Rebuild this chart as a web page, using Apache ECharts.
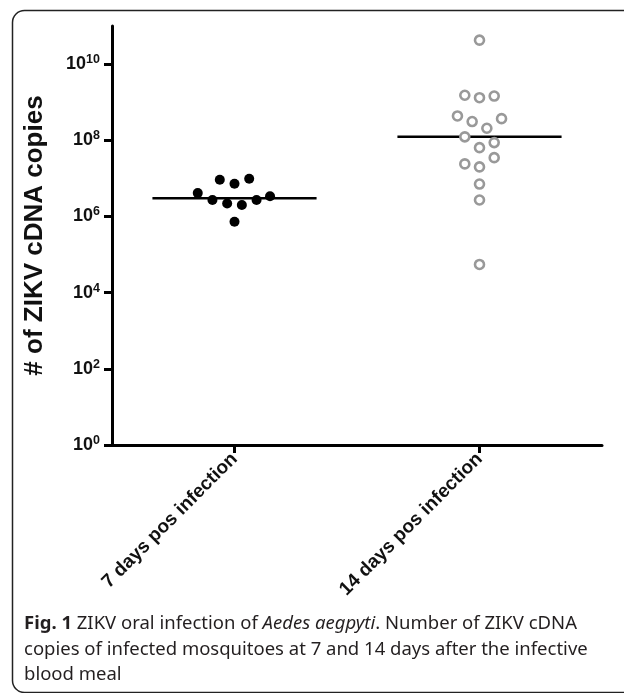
<!DOCTYPE html>
<html>
<head>
<meta charset="utf-8">
<script src="https://cdn.jsdelivr.net/npm/echarts@6/dist/echarts.min.js"></script>
<style>
html,body{margin:0;padding:0;background:#fff;}
#c{width:624px;height:693px;}
</style>
</head>
<body>
<div id="c"></div>
<script>
// Categories and their positions on the x value axis
var categories = ['7 days pos infection', '14 days pos infection'];
var categoryPos = [1, 3];
// Y axis tick values (log scale)
var yTicks = [1, 1e2, 1e4, 1e6, 1e8, 1e10];

// 7 days: x position (jittered around 1) and copies
var day7X = [0.70, 0.88, 1.00, 1.12, 0.82, 0.94, 1.06, 1.18, 1.29, 1.00];
var day7Y = [4.1e6, 9.2e6, 7.2e6, 9.8e6, 2.7e6, 2.2e6, 2.0e6, 2.7e6, 3.4e6, 7.3e5];
// 14 days: x position (jittered around 3) and copies
var day14X = [3.00, 2.88, 3.00, 3.12, 2.82, 2.94, 3.06, 3.18, 2.88, 3.00, 3.12, 3.12, 2.88, 3.00, 3.00, 3.00, 3.00];
var day14Y = [4.25e10, 1.52e9, 1.31e9, 1.45e9, 4.35e8, 3.1e8, 2.07e8, 3.7e8, 1.23e8, 6.4e7, 8.7e7, 3.5e7, 2.4e7, 2.0e7, 7.1e6, 2.7e6, 5.5e4];
// Medians
var medians = [3.0e6, 1.23e8];
var medianHalfWidth = 0.67;

function pairs(xs, ys){ return xs.map(function(x,i){ return [x, ys[i]]; }); }
function medLine(i){ return [[categoryPos[i]-medianHalfWidth, medians[i]],[categoryPos[i]+medianHalfWidth, medians[i]]]; }

var F = 'Liberation Sans, Arial, sans-serif';
var capFont = '18.5px "Noto Sans", sans-serif';
var capColor = '#231f20';

var chart = echarts.init(document.getElementById('c'));
chart.setOption({
  animation:false,
  backgroundColor:'#fff',
  grid:{left:112, right:22, top:26, bottom:248},
  xAxis:{
    type:'value', min:0, max:4,
    splitLine:{show:false},
    axisLine:{show:true, onZero:false, lineStyle:{color:'#000', width:3}},
    axisTick:{show:true, customValues:categoryPos, length:8, lineStyle:{color:'#000', width:3}},
    axisLabel:{
      customValues:categoryPos, rotate:45, margin:11,
      fontFamily:F, fontWeight:'bold', fontSize:19, color:'#111',
      formatter:function(v){ var i = categoryPos.indexOf(Math.round(v)); return i>=0 ? categories[i] : ''; }
    }
  },
  yAxis:{
    type:'log', logBase:10, min:1, max:1e11,
    name:'# of ZIKV cDNA copies', nameLocation:'middle', nameGap:64,
    nameTextStyle:{fontFamily:F, fontWeight:'bold', fontSize:26, color:'#111'},
    splitLine:{show:false},
    axisLine:{show:true, lineStyle:{color:'#000', width:3}},
    axisTick:{show:true, customValues:yTicks, length:8, lineStyle:{color:'#000', width:3}},
    axisLabel:{
      customValues:yTicks, margin:12,
      formatter:function(v){ var e = Math.round(Math.log10(v)); return '{b|10}{s|' + e + '}'; },
      rich:{
        b:{fontFamily:F, fontWeight:'bold', fontSize:18, color:'#111'},
        s:{fontFamily:F, fontWeight:'bold', fontSize:12.5, color:'#111', padding:[0,0,9,0]}
      }
    }
  },
  series:[
    {type:'line', data:medLine(0), symbol:'none', lineStyle:{color:'#000', width:2.5}, z:1},
    {type:'line', data:medLine(1), symbol:'none', lineStyle:{color:'#000', width:2.5}, z:1},
    {type:'scatter', data:pairs(day7X, day7Y), symbol:'circle', symbolSize:10, itemStyle:{color:'#000', opacity:1}, z:3},
    {type:'scatter', data:pairs(day14X, day14Y), symbol:'circle', symbolSize:9, itemStyle:{color:'#fff', borderColor:'#999', borderWidth:2.6, opacity:1}, z:3}
  ],
  graphic:[
    {type:'rect', left:10, top:8, shape:{width:640, height:682, r:12}, style:{fill:'none', stroke:'#222', lineWidth:1.5}, z:-1, silent:true},
    {type:'text', left:24, top:614, style:{
      text:'{bf|Fig. 1} ZIKV oral infection of {it|Aedes aegpyti}. Number of ZIKV cDNA',
      font:capFont, fill:capColor,
      rich:{bf:{fontWeight:'bold', fontSize:18.5, fontFamily:'Noto Sans', fill:capColor}, it:{fontStyle:'italic', fontSize:18.5, fontFamily:'Noto Sans', fill:capColor}}
    }},
    {type:'text', left:24, top:640, style:{text:'copies of infected mosquitoes at 7 and 14 days after the infective', font:capFont, fill:capColor}},
    {type:'text', left:24, top:665, style:{text:'blood meal', font:capFont, fill:capColor}}
  ]
});
</script>
</body>
</html>
